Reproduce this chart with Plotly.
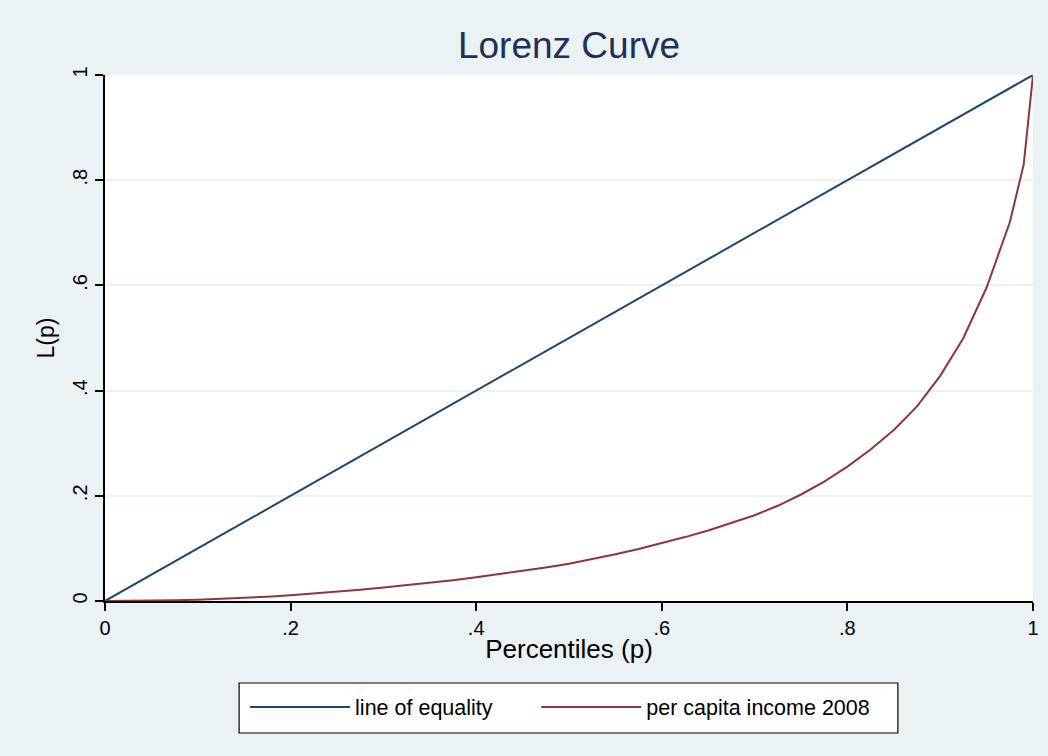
import plotly.graph_objects as go

# Cumulative population share (p) and cumulative income share L(p)
percentiles = [0.000, 0.025, 0.050, 0.075, 0.100, 0.125, 0.150, 0.175, 0.200,
               0.225, 0.250, 0.275, 0.300, 0.325, 0.350, 0.375, 0.400, 0.425,
               0.450, 0.475, 0.500, 0.525, 0.550, 0.575, 0.600, 0.625, 0.650,
               0.675, 0.700, 0.725, 0.750, 0.775, 0.800, 0.825, 0.850, 0.875,
               0.900, 0.925, 0.950, 0.975, 0.990, 1.000]
income_share = [0.0000, 0.0002, 0.0006, 0.0014, 0.0025, 0.0040, 0.0060, 0.0083,
                0.0110, 0.0141, 0.0175, 0.0213, 0.0255, 0.0299, 0.0345, 0.0395,
                0.0450, 0.0508, 0.0570, 0.0638, 0.0710, 0.0795, 0.0890, 0.0990,
                0.1100, 0.1215, 0.1340, 0.1480, 0.1630, 0.1810, 0.2025, 0.2270,
                0.2555, 0.2880, 0.3250, 0.3700, 0.4280, 0.5000, 0.5960, 0.7200,
                0.8300, 1.0000]
equality_x = [0, 1]
equality_y = [0, 1]

tick_vals = [0, 0.2, 0.4, 0.6, 0.8, 1]
tick_text = ["0", ".2", ".4", ".6", ".8", "1"]

BLUE = "#1a476f"
RED = "#90353b"
TITLE = "#1f2e5a"
BG = "#eaf2f3"
FONT = "Liberation Sans, Arial, sans-serif"

W, H = 1048, 756
ML, MR, MT, MB = 105, 9, 75, 155
PW, PH = W - ML - MR, H - MT - MB


def px_x(x):
    """Pixel column -> paper x."""
    return (x - ML) / PW


def px_y(y):
    """Pixel row -> paper y."""
    return (H - MB - y) / PH


legend_font = dict(size=21.5, family=FONT, color="black")
legend_common = dict(orientation="h", yanchor="middle", y=px_y(707),
                     bgcolor="rgba(0,0,0,0)", borderwidth=0,
                     font=legend_font, itemwidth=100)

fig = go.Figure()
fig.add_trace(go.Scatter(x=equality_x, y=equality_y, mode="lines",
                         name="line of equality", legend="legend",
                         line=dict(color=BLUE, width=2)))
fig.add_trace(go.Scatter(x=percentiles, y=income_share, mode="lines",
                         name="per capita income 2008", legend="legend2",
                         line=dict(color=RED, width=2)))

# Framed white box holding both legend entries
fig.add_shape(type="rect", xref="paper", yref="paper",
              x0=px_x(240), x1=px_x(903), y0=px_y(733), y1=px_y(683),
              fillcolor="white", line=dict(color="black", width=1.2),
              layer="below")

fig.update_layout(
    width=W, height=H,
    paper_bgcolor=BG, plot_bgcolor="white",
    margin=dict(l=ML, r=MR, t=MT, b=MB),
    font=dict(family=FONT, color="black", size=20),
    title=dict(text="Lorenz Curve", x=0.5, xref="paper", xanchor="center",
               y=1 - 45 / H, yanchor="middle",
               font=dict(size=37, color=TITLE, family=FONT)),
    showlegend=True,
    legend=dict(x=px_x(246), xanchor="left", **legend_common),
    legend2=dict(x=px_x(539), xanchor="left", **legend_common),
    xaxis=dict(range=[0, 1], tickvals=tick_vals, ticktext=tick_text,
               showgrid=False, zeroline=False,
               showline=True, linecolor="black", linewidth=1.5,
               ticks="outside", ticklen=8, tickcolor="black", tickwidth=1.5,
               tickfont=dict(size=20),
               title=dict(text="Percentiles (p)", font=dict(size=26), standoff=2)),
    yaxis=dict(range=[0, 1], tickvals=tick_vals, ticktext=tick_text,
               showgrid=True, gridcolor=BG, gridwidth=1.5, zeroline=False,
               showline=True, linecolor="black", linewidth=1.5,
               ticks="outside", ticklen=8, tickcolor="black", tickwidth=1.5,
               tickangle=-90, tickfont=dict(size=20),
               title=dict(text="L(p)", font=dict(size=23), standoff=8)),
)

fig.write_html("out.html")
